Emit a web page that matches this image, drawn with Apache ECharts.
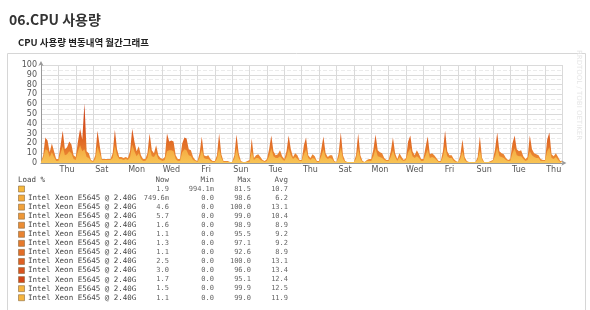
<!DOCTYPE html>
<html>
<head>
<meta charset="utf-8">
<script src="https://cdn.jsdelivr.net/npm/echarts@6/dist/echarts.min.js"></script>
<style>
  html, body { margin: 0; padding: 0; background: #fff; }
  #cpu_chart { width: 590px; height: 310px; }
</style>
</head>
<body>
<div id="cpu_chart"></div>
<script>
// 30 days, 8 samples per day (every 3h), first sample = Wed 00:00
var cpuPeak = [
  1, 8, 26, 23, 11, 20, 12, 4,
  4, 18, 33, 14, 16, 22, 19, 8,
  6, 22, 35, 24, 61, 12, 10, 3,
  2, 8, 33, 18, 4, 4, 4, 4,
  4, 10, 34, 14, 6, 6, 5, 6,
  5, 12, 35, 22, 12, 17, 8, 4,
  4, 10, 30, 13, 10, 18, 8, 5,
  4, 6, 30, 22, 23, 22, 8, 4,
  4, 20, 26, 25, 14, 13, 6, 3,
  2, 10, 27, 8, 7, 8, 4, 2,
  2, 8, 30, 9, 2, 2, 2, 1,
  1, 8, 29, 10, 2, 1, 1, 2,
  3, 25, 5, 8, 9, 6, 3, 2,
  4, 14, 28, 12, 8, 9, 13, 7,
  4, 12, 28, 14, 6, 10, 8, 3,
  3, 18, 26, 8, 5, 9, 7, 2,
  2, 14, 27, 10, 6, 8, 8, 2,
  1, 10, 31, 8, 2, 1, 1, 1,
  1, 8, 30, 8, 2, 1, 3, 4,
  4, 14, 29, 13, 11, 10, 5, 3,
  3, 12, 26, 10, 4, 10, 6, 3,
  5, 22, 28, 12, 8, 13, 9, 4,
  4, 16, 27, 9, 10, 8, 5, 2,
  2, 12, 33, 12, 8, 8, 4, 2,
  1, 8, 24, 6, 2, 1, 1, 1,
  1, 6, 27, 5, 1, 1, 1, 2,
  3, 14, 31, 12, 10, 9, 5, 3,
  4, 20, 28, 14, 12, 13, 7, 4,
  6, 28, 14, 10, 9, 8, 4, 3,
  3, 24, 31, 9, 7, 10, 6, 2,
  2
]

var cpuBase = [
  1, 5, 14, 13, 6, 11, 6, 2,
  2, 10, 17, 8, 9, 12, 10, 4,
  3, 12, 18, 12, 14, 6, 5, 2,
  1, 4, 17, 10, 3, 3, 3, 3,
  3, 5, 18, 8, 4, 4, 3, 4,
  3, 6, 19, 12, 7, 10, 4, 2,
  2, 5, 16, 7, 6, 10, 4, 3,
  2, 3, 12, 13, 13, 12, 4, 2,
  2, 11, 14, 13, 8, 7, 3, 2,
  1, 5, 14, 5, 4, 4, 2, 1,
  1, 4, 15, 5, 1, 1, 1, 1,
  1, 4, 15, 5, 1, 1, 1, 1,
  1, 12, 3, 5, 5, 3, 2, 1,
  2, 7, 15, 7, 5, 5, 7, 4,
  2, 6, 15, 8, 4, 6, 4, 2,
  2, 9, 14, 5, 3, 5, 4, 1,
  1, 7, 14, 6, 4, 5, 4, 1,
  1, 5, 16, 4, 1, 1, 1, 1,
  1, 4, 15, 4, 1, 1, 2, 2,
  2, 7, 15, 7, 6, 5, 3, 2,
  2, 6, 13, 6, 2, 6, 3, 2,
  3, 11, 15, 7, 5, 7, 5, 2,
  2, 8, 14, 5, 6, 5, 3, 1,
  1, 6, 17, 7, 5, 5, 2, 1,
  1, 4, 12, 3, 1, 1, 1, 1,
  1, 3, 13, 3, 1, 1, 1, 1,
  2, 7, 16, 7, 6, 5, 3, 2,
  2, 10, 15, 8, 7, 7, 4, 2,
  3, 12, 8, 6, 5, 5, 2, 2,
  2, 12, 16, 5, 4, 6, 3, 1,
  1
]

// day names shown under every second day (odd days from Wed start)
var dayLabels = ['Thu', 'Sat', 'Mon', 'Wed', 'Fri', 'Sun', 'Tue', 'Thu', 'Sat', 'Mon', 'Wed', 'Fri', 'Sun', 'Tue', 'Thu']

var cpuName = 'Intel Xeon E5645 @ 2.40G'
var legendNames = ['', cpuName, cpuName, cpuName, cpuName, cpuName, cpuName, cpuName, cpuName, cpuName, cpuName, cpuName, cpuName]
var legendColors = ['#f6b83c', '#f4ab3a', '#f1a13a', '#ee9737', '#eb8c34', '#e98331', '#e6792d', '#e26d28', '#de6023', '#d9531e', '#d44518', '#f5b43e', '#f5b43e']
var nowVals = ['1.9', '749.6m', '4.6', '5.7', '1.6', '1.1', '1.3', '1.1', '2.5', '3.0', '1.7', '1.5', '1.1']
var minVals = ['994.1m', '0.0', '0.0', '0.0', '0.0', '0.0', '0.0', '0.0', '0.0', '0.0', '0.0', '0.0', '0.0']
var maxVals = ['81.5', '98.6', '100.0', '99.0', '98.9', '95.5', '97.1', '92.6', '100.0', '96.0', '95.1', '99.9', '99.0']
var avgVals = ['10.7', '6.2', '13.1', '10.4', '8.9', '9.2', '9.2', '8.9', '13.1', '13.4', '12.4', '12.5', '11.9']

var cats = []
for (var i = 0; i < cpuPeak.length; i++) cats.push(String(i))

var mono = 'DejaVu Sans Mono'
var graphics = [
  {
    type: 'rect',
    shape: { x: 7.5, y: 53.5, width: 578, height: 270 },
    style: { fill: 'none', stroke: '#d6d6d6', lineWidth: 1 },
    z: -10,
  },
  {
    type: 'text',
    x: 579,
    y: 95,
    rotation: -Math.PI / 2,
    style: { text: 'RRDTOOL / TOBI OETIKER', fill: '#e6e6e6', font: '7px DejaVu Sans', align: 'center', verticalAlign: 'middle' },
  },
  {
    type: 'text',
    x: 18,
    y: 180,
    style: { text: 'Load %', fill: '#444', font: '7.5px ' + mono, verticalAlign: 'middle' },
  },
]

var colRight = [169, 214, 251, 288]
var heads = ['Now', 'Min', 'Max', 'Avg']
heads.forEach(function (h, c) {
  graphics.push({
    type: 'text',
    x: colRight[c],
    y: 180,
    style: { text: h, fill: '#555', font: '7.5px ' + mono, align: 'right', verticalAlign: 'middle' },
  })
})

legendNames.forEach(function (name, r) {
  var y = 189 + r * 9.06
  graphics.push({
    type: 'rect',
    shape: { x: 18.5, y: y - 3, width: 6, height: 6 },
    style: { fill: legendColors[r], stroke: '#8a6a40', lineWidth: 0.6 },
  })
  graphics.push({
    type: 'text',
    x: 28,
    y: y,
    style: { text: name, fill: '#444', font: '7.5px ' + mono, verticalAlign: 'middle' },
  })
  var vals = [nowVals[r], minVals[r], maxVals[r], avgVals[r]]
  vals.forEach(function (v, c) {
    graphics.push({
      type: 'text',
      x: colRight[c],
      y: y,
      style: { text: v, fill: '#666', font: '7px ' + mono, align: 'right', verticalAlign: 'middle' },
    })
  })
})

var chart = echarts.init(document.getElementById('cpu_chart'))

var option = {
  animation: false,
  backgroundColor: '#fff',
  title: [
    {
      text: '06.CPU 사용량',
      left: 4,
      top: 8,
      textStyle: { fontSize: 14, fontWeight: 'bold', color: '#333', fontFamily: 'Noto Sans CJK KR' },
    },
    {
      text: 'CPU 사용량 변동내역 월간그래프',
      left: 13,
      top: 33,
      textStyle: { fontSize: 9.5, fontWeight: 'bold', color: '#222', fontFamily: 'Noto Sans CJK KR' },
    },
  ],
  grid: {
    left: 41,
    right: 27.6,
    top: 65,
    bottom: 147,
  },
  xAxis: {
    type: 'category',
    boundaryGap: false,
    data: cats,
    axisLine: {
      show: true,
      symbol: ['none', 'arrow'],
      symbolSize: [4, 5],
      symbolOffset: [0, 4],
      lineStyle: { color: '#999', width: 1 },
    },
    axisTick: { show: false },
    axisLabel: {
      interval: function (idx) {
        return idx % 16 === 12
      },
      formatter: function (v, idx) {
        return dayLabels[(idx - 12) / 16] || ''
      },
      fontSize: 8,
      fontFamily: 'DejaVu Sans',
      color: '#555',
      margin: 3,
    },
    splitLine: {
      show: true,
      interval: function (idx) {
        return idx % 8 === 0
      },
      lineStyle: { color: '#dadada' },
    },
  },
  yAxis: {
    type: 'value',
    min: 0,
    max: 100,
    interval: 10,
    axisLine: {
      show: true,
      symbol: ['none', 'arrow'],
      symbolSize: [4, 5],
      symbolOffset: [0, 4],
      lineStyle: { color: '#999', width: 1 },
    },
    axisTick: { show: false },
    axisLabel: { fontSize: 8, fontFamily: 'DejaVu Sans', color: '#555', margin: 4 },
    splitLine: { lineStyle: { color: '#dadada' } },
    minorTick: { show: false, splitNumber: 2 },
    minorSplitLine: { show: true, lineStyle: { color: '#ebebeb', type: 'dashed' } },
  },
  series: [
    {
      name: 'peak',
      type: 'line',
      data: cpuPeak,
      symbol: 'none',
      silent: true,
      lineStyle: { width: 0, opacity: 0 },
      areaStyle: {
        opacity: 1,
        color: new echarts.graphic.LinearGradient(0, 0, 0, 1, [
          { offset: 0, color: '#c9401a' },
          { offset: 0.45, color: '#d9561f' },
          { offset: 1, color: '#ee9134' },
        ]),
      },
    },
    {
      name: 'base',
      type: 'line',
      data: cpuBase,
      symbol: 'none',
      silent: true,
      lineStyle: { width: 0, opacity: 0 },
      areaStyle: {
        opacity: 1,
        color: new echarts.graphic.LinearGradient(0, 0, 0, 1, [
          { offset: 0, color: '#f3a23c' },
          { offset: 1, color: '#f8c455' },
        ]),
      },
    },
  ],
  graphic: graphics,
}

chart.setOption(option)
</script>
</body>
</html>
